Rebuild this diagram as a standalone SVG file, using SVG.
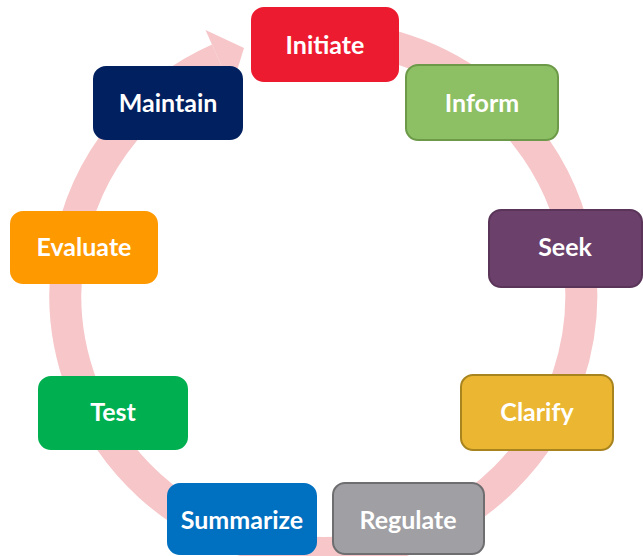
<svg xmlns="http://www.w3.org/2000/svg" width="643" height="556" viewBox="0 0 643 556">
  <style>
    .ring { fill: none; stroke: #F6C6C9; stroke-width: 32; }
    .head { fill: #F6C6C9; }
    .box { stroke-width: 2; }
    .lbl { font-family: Lato, "Open Sans", "Liberation Sans", sans-serif; font-weight: bold; font-size: 25px; fill: #FFFFFF; text-anchor: middle; dominant-baseline: central; }
  </style>
  <rect width="643" height="556" fill="#FFFFFF"/>

  <!-- circular cycle arrow behind the steps -->
  <g id="connectors">
    <path class="ring" d="M 300 38 A 258 258 0 1 1 218.5 59.2"/>
    <polygon class="head" points="205.5,30 244,48 231.5,88.4"/>
  </g>

  <g id="initiate">
    <rect class="box" x="252" y="8" width="146" height="73" rx="12" fill="#ED1B2F" stroke="#ED1B2F"/>
    <text class="lbl" x="325" y="44">Initiate</text>
  </g>
  <g id="inform">
    <rect class="box" x="406" y="65" width="152" height="75" rx="12" fill="#8DC064" stroke="#6C9A48"/>
    <text class="lbl" x="482" y="102">Inform</text>
  </g>
  <g id="seek">
    <rect class="box" x="489" y="210" width="153" height="77" rx="12" fill="#6B416B" stroke="#5A3559"/>
    <text class="lbl" x="565" y="246">Seek</text>
  </g>
  <g id="clarify">
    <rect class="box" x="461" y="375" width="152" height="75" rx="12" fill="#EBB632" stroke="#A8841F"/>
    <text class="lbl" x="537" y="411">Clarify</text>
  </g>
  <g id="regulate">
    <rect class="box" x="333" y="483" width="151" height="71" rx="12" fill="#A09FA4" stroke="#6E6E70"/>
    <text class="lbl" x="408" y="519">Regulate</text>
  </g>
  <g id="summarize">
    <rect class="box" x="168" y="484" width="148" height="70" rx="12" fill="#0070C0" stroke="#0070C0"/>
    <text class="lbl" x="242" y="519">Summarize</text>
  </g>
  <g id="test">
    <rect class="box" x="39" y="377" width="148" height="72" rx="12" fill="#00B050" stroke="#00B050"/>
    <text class="lbl" x="113" y="411">Test</text>
  </g>
  <g id="evaluate">
    <rect class="box" x="11" y="212" width="146" height="71" rx="12" fill="#FF9900" stroke="#FF9900"/>
    <text class="lbl" x="84" y="246">Evaluate</text>
  </g>
  <g id="maintain">
    <rect class="box" x="94" y="67" width="148" height="72" rx="12" fill="#002060" stroke="#002060"/>
    <text class="lbl" x="168" y="102">Maintain</text>
  </g>
</svg>
